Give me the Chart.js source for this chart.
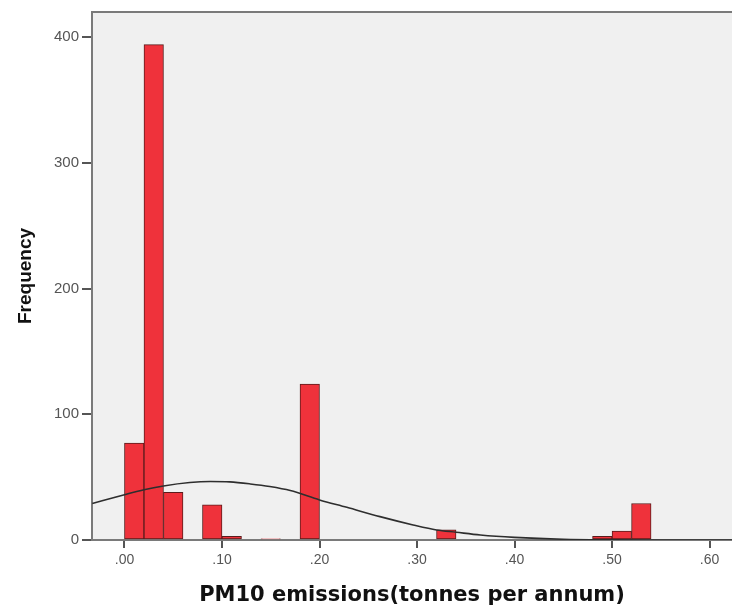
<!DOCTYPE html>
<html>
<head>
<meta charset="utf-8">
<script src="https://cdn.jsdelivr.net/npm/chart.js@4.4.0/dist/chart.umd.min.js"></script>
<style>
  html, body { margin: 0; padding: 0; background: #ffffff; }
  #wrap { width: 732px; height: 608px; }
</style>
</head>
<body>
<div id="wrap"><canvas id="histChart" width="732" height="608"></canvas></div>
<script>
// bin centres (bin width .02) and counts
const binCenters = [0.01, 0.03, 0.05, 0.07, 0.09, 0.11, 0.13, 0.15, 0.17, 0.19,
                    0.21, 0.23, 0.25, 0.27, 0.29, 0.31, 0.33, 0.35, 0.37, 0.39,
                    0.41, 0.43, 0.45, 0.47, 0.49, 0.51, 0.53];
const frequencies = [77, 394, 38, 0, 28, 3, 0, 1, 0, 124,
                     0, 0, 0, 0, 0, 0, 8, 0, 0, 0,
                     0, 0, 0, 0, 3, 7, 29];

// normal curve, points
const curveX = [-0.033, 0.0, 0.02, 0.04, 0.067, 0.088, 0.108, 0.129, 0.149, 0.17,
                0.2, 0.228, 0.262, 0.296, 0.32, 0.34, 0.365, 0.4, 0.45, 0.5, 0.55, 0.623];
const curveY = [29, 36, 40, 43, 45.7, 46.5, 46.2, 44.6, 42.5, 39.3,
                31.9, 26, 18.6, 12, 8, 6.2, 4, 2.1, 0.6, 0.15, 0, 0];

const xTickValues = [0, 0.1, 0.2, 0.3, 0.4, 0.5, 0.6];
const yTickValues = [0, 100, 200, 300, 400];

const xTitle = "PM10 emissions(tonnes per annum)";
const yTitle = "Frequency";

const plotBackground = {
    id: "plotBackground",
    beforeDraw(chart) {
        const a = chart.chartArea;
        const ctx = chart.ctx;
        ctx.save();
        ctx.fillStyle = "#f0f0f0";
        ctx.fillRect(a.left, a.top, a.right - a.left, a.bottom - a.top);
        ctx.strokeStyle = "#7a7a7a";
        ctx.lineWidth = 2;
        ctx.beginPath();
        ctx.moveTo(a.left, a.top);
        ctx.lineTo(a.right, a.top);
        ctx.stroke();
        ctx.restore();
    }
};

const ctx = document.getElementById("histChart").getContext("2d");

new Chart(ctx, {
    data: {
        datasets: [
            {
                type: "line",
                data: curveX.map((x, i) => ({ x: x, y: curveY[i] })),
                borderColor: "#2e2e2e",
                borderWidth: 1.6,
                pointRadius: 0,
                tension: 0.4,
                cubicInterpolationMode: "monotone",
                fill: false,
                order: 0
            },
            {
                type: "bar",
                data: binCenters.map((x, i) => ({ x: x, y: frequencies[i] })),
                backgroundColor: "#ef323b",
                borderColor: "#5a1c1c",
                borderWidth: 1,
                borderSkipped: false,
                barPercentage: 1,
                categoryPercentage: 1,
                order: 1
            }
        ]
    },
    options: {
        responsive: false,
        animation: false,
        devicePixelRatio: 1,
        layout: { padding: { top: 12, right: 0, left: 0, bottom: 0 } },
        plugins: {
            legend: { display: false },
            tooltip: { enabled: false }
        },
        scales: {
            x: {
                type: "linear",
                min: -0.0333,
                max: 0.623,
                offset: false,
                afterFit(scale) { scale.height = 68; },
                afterBuildTicks(scale) { scale.ticks = xTickValues.map(v => ({ value: v })); },
                grid: { offset: false, drawOnChartArea: false, drawTicks: true, tickLength: 8, color: "#555", lineWidth: 2 },
                border: { display: true, color: "#7a7a7a", width: 2 },
                ticks: {
                    color: "#555",
                    padding: 4,
                    maxRotation: 0,
                    autoSkip: false,
                    font: { family: "Liberation Sans", size: 14 },
                    callback: v => "." + String(Math.round(v * 100)).padStart(2, "0")
                },
                title: {
                    display: true,
                    text: xTitle,
                    color: "#111",
                    padding: { top: 0, bottom: 0 },
                    font: { family: "DejaVu Sans", size: 21, weight: "bold" }
                }
            },
            y: {
                type: "linear",
                min: 0,
                max: 420,
                afterFit(scale) { scale.width = 92; },
                afterBuildTicks(scale) { scale.ticks = yTickValues.map(v => ({ value: v })); },
                grid: { drawOnChartArea: false, drawTicks: true, tickLength: 10, color: "#555", lineWidth: 2 },
                border: { display: true, color: "#7a7a7a", width: 2 },
                ticks: {
                    color: "#555",
                    padding: 3,
                    font: { family: "Liberation Sans", size: 15 }
                },
                title: {
                    display: true,
                    text: yTitle,
                    color: "#111",
                    padding: { top: 14, bottom: 0 },
                    font: { family: "Liberation Sans", size: 19, weight: "bold" }
                }
            }
        }
    },
    plugins: [plotBackground]
});
</script>
</body>
</html>
